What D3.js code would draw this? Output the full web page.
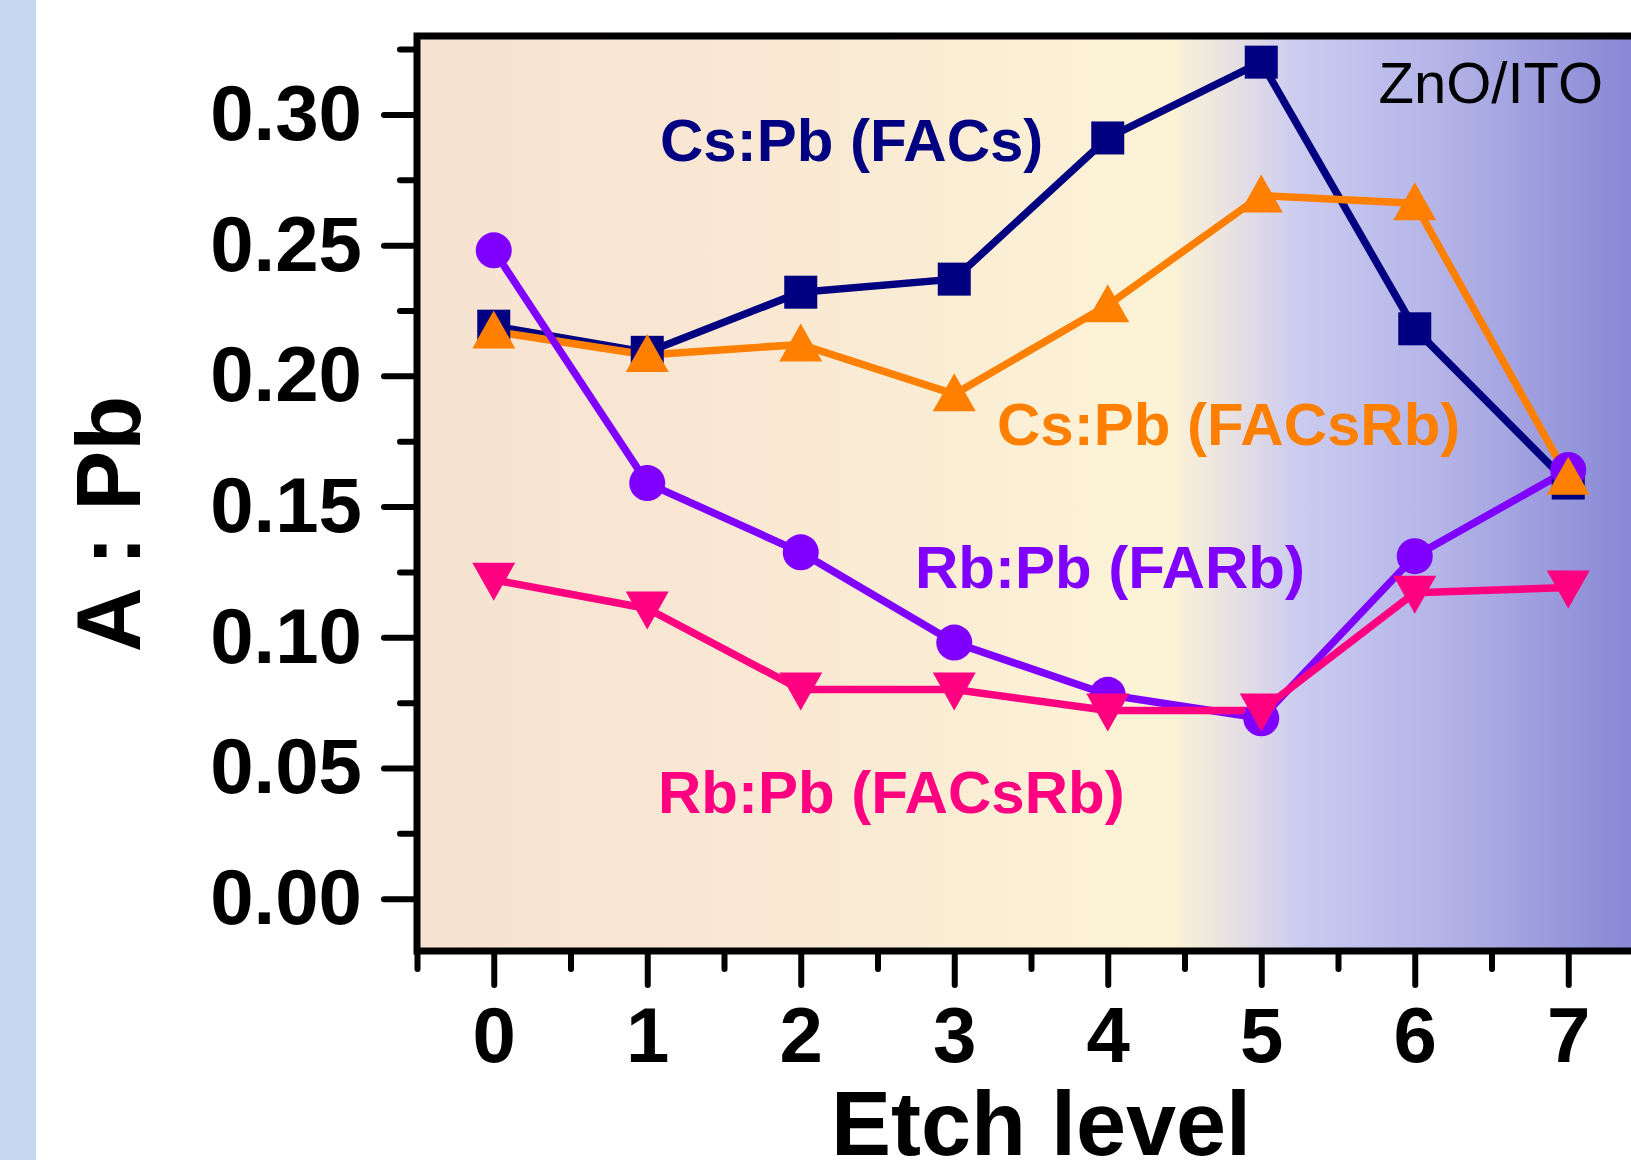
<!DOCTYPE html>
<html>
<head>
<meta charset="utf-8">
<script src="https://cdn.jsdelivr.net/npm/d3@7"></script>
<style>
  html, body { margin: 0; padding: 0; background: #fff; }
  svg { display: block; font-family: "Liberation Sans", Arial, sans-serif; }
</style>
</head>
<body>
<svg id="chart" width="1631" height="1160"></svg>
<script>
// etch levels and the four A:Pb ratio series
const etchLevels = [0, 1, 2, 3, 4, 5, 6, 7];
const csPbFACs   = [0.219, 0.209, 0.232, 0.237, 0.291, 0.320, 0.218, 0.159];
const csPbFACsRb = [0.217, 0.208, 0.212, 0.193, 0.227, 0.269, 0.266, 0.161];
const rbPbFARb   = [0.248, 0.159, 0.1325, 0.098, 0.078, 0.069, 0.131, 0.164];
const rbPbFACsRb = [0.122, 0.111, 0.080, 0.080, 0.072, 0.072, 0.117, 0.119];
const yTicks = [0, 0.05, 0.10, 0.15, 0.20, 0.25, 0.30];

const svg = d3.select("#chart");
const W = 1631, H = 1160;
const plotL = 417, plotR = 1645, plotT = 36, plotB = 951;

const x = d3.scaleLinear().domain([-0.5, 7.5]).range([plotL, plotR]);
const y = d3.scaleLinear().domain([-0.02, 0.33]).range([plotB, plotT]);

// light blue strip on the far left
svg.append("rect").attr("x", 0).attr("y", 0).attr("width", 36).attr("height", H)
  .attr("fill", "#c5d7ef");

// background gradient inside the frame
const grad = svg.append("defs").append("linearGradient")
  .attr("id", "bg").attr("gradientUnits", "userSpaceOnUse")
  .attr("x1", plotL).attr("x2", plotR).attr("y1", 0).attr("y2", 0);
[[417, "#f7e2d1"], [800, "#f9e9d3"], [1170, "#fcf3d6"], [1235, "#e6e0e2"],
 [1300, "#cbcbf1"], [1450, "#b2b2e7"], [1631, "#8888d5"], [1645, "#8585d3"]]
  .forEach(([px, c]) => grad.append("stop")
    .attr("offset", ((px - plotL) / (plotR - plotL) * 100) + "%").attr("stop-color", c));

svg.append("rect").attr("x", plotL).attr("y", plotT)
  .attr("width", plotR - plotL).attr("height", plotB - plotT).attr("fill", "url(#bg)");

// axes
const yAxis = d3.axisLeft(y).tickValues(yTicks).tickSize(33).tickPadding(22)
  .tickFormat(d3.format(".2f"));
const yMinor = d3.axisLeft(y).tickValues(d3.range(0.025, 0.33, 0.05)).tickSize(17).tickFormat("");
const xAxis = d3.axisBottom(x).tickValues(etchLevels).tickSize(34).tickPadding(22)
  .tickFormat(d3.format("d"));
const xMinor = d3.axisBottom(x).tickValues(d3.range(-0.5, 7.5, 1)).tickSize(18).tickFormat("");

function styleAxis(g) {
  g.select(".domain").remove();
  g.selectAll(".tick line").attr("stroke", "#000").attr("stroke-width", 6)
    .attr("stroke-linecap", "round");
  g.selectAll(".tick text").attr("fill", "#000").attr("font-weight", "bold")
    .attr("font-size", 78).attr("font-family", "Liberation Sans, Arial, sans-serif");
}

svg.append("g").attr("transform", `translate(${plotL},0)`).call(yAxis).call(styleAxis);
svg.append("g").attr("transform", `translate(${plotL},0)`).call(yMinor).call(styleAxis);
svg.append("g").attr("transform", `translate(0,${plotB})`).call(xAxis).call(styleAxis);
svg.append("g").attr("transform", `translate(0,${plotB})`).call(xMinor).call(styleAxis);

// frame
svg.append("path")
  .attr("d", `M${plotL},${plotB} L${plotL},${plotT} L${plotR},${plotT} L${plotR},${plotB} Z`)
  .attr("fill", "none").attr("stroke", "#000").attr("stroke-width", 7)
  .attr("stroke-linejoin", "miter");

// series
const series = [
  { name: "csFACs", values: csPbFACs, color: "#000080", shape: "square" },
  { name: "csFACsRb", values: csPbFACsRb, color: "#ff8000", shape: "up" },
  { name: "rbFARb", values: rbPbFARb, color: "#8000ff", shape: "circle" },
  { name: "rbFACsRb", values: rbPbFACsRb, color: "#ff0080", shape: "down" }
];

const line = d3.line().x((d, i) => x(etchLevels[i])).y(d => y(d));

series.forEach(s => {
  svg.append("path").attr("d", line(s.values)).attr("fill", "none")
    .attr("stroke", s.color).attr("stroke-width", 7.5).attr("stroke-linejoin", "round");
});

const markerOrder = [series[0], series[2], series[1], series[3]];
markerOrder.forEach(s => {
  const g = svg.append("g").attr("fill", s.color);
  s.values.forEach((v, i) => {
    const cx = x(etchLevels[i]), cy = y(v);
    if (s.shape === "square") {
      g.append("rect").attr("x", cx - 16.5).attr("y", cy - 16.5)
        .attr("width", 33).attr("height", 33);
    } else if (s.shape === "circle") {
      g.append("circle").attr("cx", cx).attr("cy", cy).attr("r", 18);
    } else if (s.shape === "up") {
      g.append("path").attr("d", `M${cx},${cy - 21} L${cx + 21.5},${cy + 17} L${cx - 21.5},${cy + 17} Z`);
    } else {
      g.append("path").attr("d", `M${cx},${cy + 21} L${cx + 21.5},${cy - 17} L${cx - 21.5},${cy - 17} Z`);
    }
  });
});

// annotations
const notes = [
  { text: "Cs:Pb (FACs)", x: 660, y: 161, color: "#000080" },
  { text: "Cs:Pb (FACsRb)", x: 997, y: 445, color: "#ff8000" },
  { text: "Rb:Pb (FARb)", x: 915, y: 588, color: "#8000ff" },
  { text: "Rb:Pb (FACsRb)", x: 658, y: 813, color: "#ff0080" }
];
svg.selectAll("text.note").data(notes).enter().append("text")
  .attr("class", "note").attr("x", d => d.x).attr("y", d => d.y)
  .attr("fill", d => d.color).attr("font-size", 60).attr("font-weight", "bold")
  .text(d => d.text);

svg.append("text").attr("x", 1603).attr("y", 103).attr("text-anchor", "end")
  .attr("font-size", 58).attr("fill", "#000").text("ZnO/ITO");

// axis titles
svg.append("text").attr("x", 1041).attr("y", 1155).attr("text-anchor", "middle")
  .attr("font-size", 90).attr("font-weight", "bold").text("Etch level");

svg.append("text").attr("transform", "translate(140,524) rotate(-90)")
  .attr("text-anchor", "middle").attr("font-size", 90).attr("font-weight", "bold")
  .attr("xml:space", "preserve").text("A : Pb");
</script>
</body>
</html>
